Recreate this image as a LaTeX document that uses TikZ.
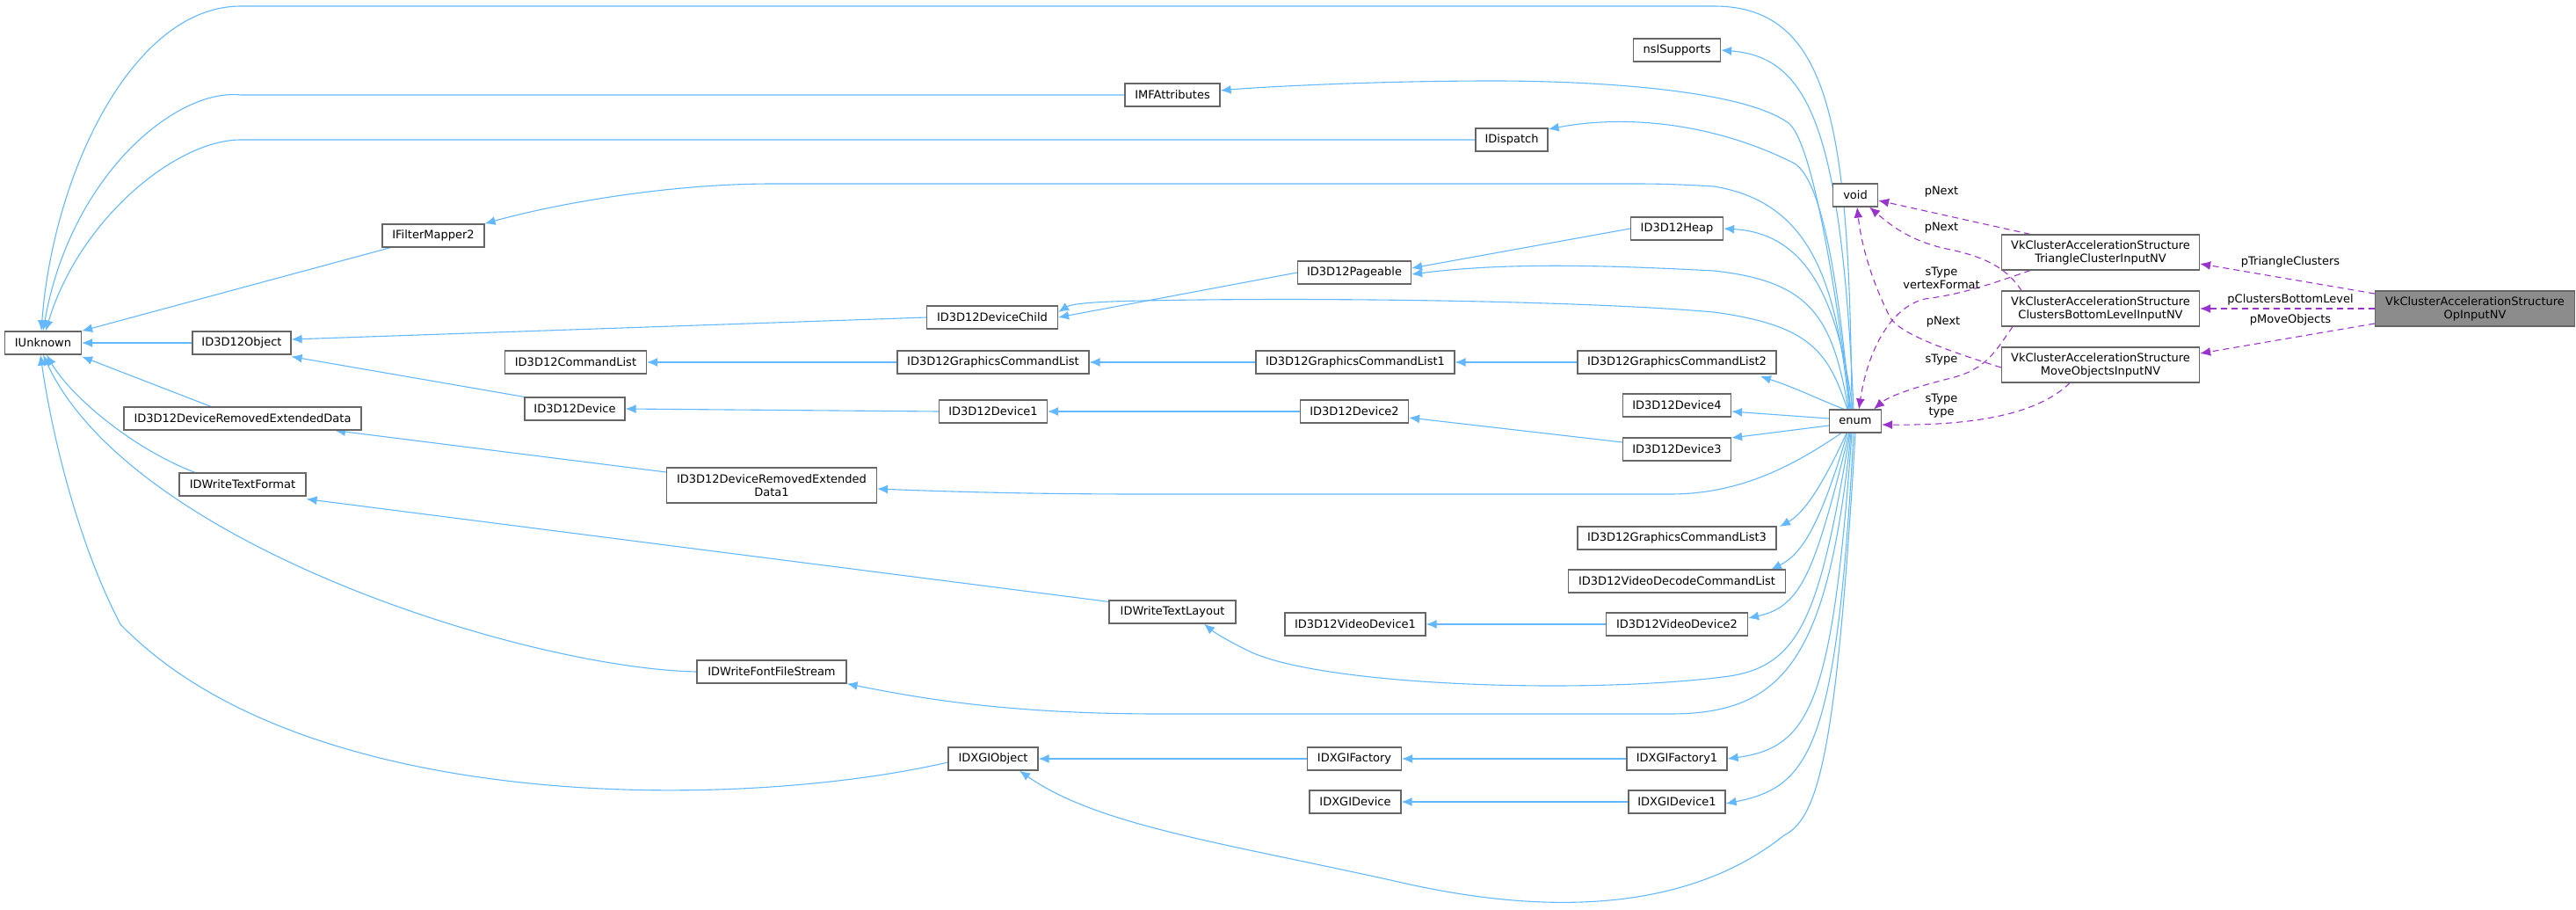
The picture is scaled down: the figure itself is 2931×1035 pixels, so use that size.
\documentclass[tikz,border=0pt]{standalone}
\usepackage{fontspec}
\setmainfont{DejaVu Sans}
\usetikzlibrary{arrows.meta}
\definecolor{eb}{HTML}{63B8FF}
\definecolor{ep}{HTML}{9A32CD}
\definecolor{bd}{HTML}{666666}
\pgfdeclarelayer{bg}
\pgfsetlayers{bg,main}
\begin{document}
\begin{tikzpicture}[x=1pt,y=-1pt,
  box/.style={draw=bd,line width=1.2pt,fill=white,inner sep=0pt,minimum height=26pt,font=\fontsize{13}{15}\selectfont,align=center},
  box2/.style={box,minimum height=40pt},
  b/.style={draw=eb,line width=1.1pt,-{Latex[length=12pt,width=10pt]}},
  p/.style={draw=ep,line width=1.1pt,dashed,dash pattern=on 7pt off 5pt,-{Latex[length=12pt,width=10pt]}},
  lb/.style={font=\fontsize{13}{15}\selectfont,align=center,inner sep=0pt}]
\useasboundingbox (0,0) rectangle (2931,1035);
% nodes
\node[box,minimum width=87] (IUnknown) at (49,390) {IUnknown};
\node[box,minimum width=112] (Obj) at (275,390) {ID3D12Object};
\node[box,minimum width=116] (IFM) at (493,268) {IFilterMapper2};
\node[box,minimum width=108] (IMF) at (1334,108) {IMFAttributes};
\node[box,minimum width=82] (IDisp) at (1720,159) {IDispatch};
\node[box,minimum width=99] (ns) at (1908,57) {nsISupports};
\node[box,minimum width=51] (void) at (2111,222) {void};
\node[box,minimum width=105] (Heap) at (1908,260) {ID3D12Heap};
\node[box,minimum width=129] (Pag) at (1541,310) {ID3D12Pageable};
\node[box,minimum width=149] (DC) at (1129,361) {ID3D12DeviceChild};
\node[box,minimum width=161] (CL) at (655,412) {ID3D12CommandList};
\node[box,minimum width=218] (GCL) at (1130,412) {ID3D12GraphicsCommandList};
\node[box,minimum width=226] (GCL1) at (1542,412) {ID3D12GraphicsCommandList1};
\node[box,minimum width=226] (GCL2) at (1908,412) {ID3D12GraphicsCommandList2};
\node[box,minimum width=114] (Dev) at (654,465) {ID3D12Device};
\node[box,minimum width=123] (Dev1) at (1130,468) {ID3D12Device1};
\node[box,minimum width=123] (Dev2) at (1541,468) {ID3D12Device2};
\node[box,minimum width=123] (Dev4) at (1908,461) {ID3D12Device4};
\node[box,minimum width=123] (Dev3) at (1908,511) {ID3D12Device3};
\node[box,minimum width=270] (DRED) at (276,476) {ID3D12DeviceRemovedExtendedData};
\node[box2,minimum width=239] (DRED1) at (878,552) {ID3D12DeviceRemovedExtended\\Data1};
\node[box,minimum width=144] (TF) at (276,551) {IDWriteTextFormat};
\node[box,minimum width=144] (TL) at (1334,696) {IDWriteTextLayout};
\node[box,minimum width=226] (GCL3) at (1908,612) {ID3D12GraphicsCommandList3};
\node[box,minimum width=247] (VDCL) at (1908,661) {ID3D12VideoDecodeCommandList};
\node[box,minimum width=160] (VD1) at (1542,710) {ID3D12VideoDevice1};
\node[box,minimum width=161] (VD2) at (1908,710) {ID3D12VideoDevice2};
\node[box,minimum width=170] (FFS) at (878,764) {IDWriteFontFileStream};
\node[box,minimum width=102] (XO) at (1130,863) {IDXGIObject};
\node[box,minimum width=107] (XF) at (1541,863) {IDXGIFactory};
\node[box,minimum width=114] (XF1) at (1908,863) {IDXGIFactory1};
\node[box,minimum width=104] (XD) at (1542,912) {IDXGIDevice};
\node[box,minimum width=110] (XD1) at (1908,912) {IDXGIDevice1};
\node[box,minimum width=59] (enum) at (2111,479) {enum};
\node[box2,minimum width=225] (Tri) at (2390,287) {VkClusterAccelerationStructure\\TriangleClusterInputNV};
\node[box2,minimum width=225] (Clu) at (2390,351) {VkClusterAccelerationStructure\\ClustersBottomLevelInputNV};
\node[box2,minimum width=225] (Mov) at (2390,415) {VkClusterAccelerationStructure\\MoveObjectsInputNV};
\node[box2,minimum width=227,fill=black!45] (Op) at (2816,351) {VkClusterAccelerationStructure\\OpInputNV};
\coordinate (tu) at (274,7);
\begin{pgfonlayer}{bg}
% edges to IUnknown
\draw[b] ([xshift=-4pt]enum.north) .. controls (2104,150) and (2085,7) .. (1950,7) -- (tu) .. controls (150,7) and (60,200) .. ([xshift=-2pt]IUnknown.north);
\draw[b] (IMF.west) -- (274,108) .. controls (200,100) and (80,200) .. (IUnknown.north);
\draw[b] (IDisp.west) -- (274,159) .. controls (200,159) and (90,250) .. ([xshift=3pt]IUnknown.north);
\draw[b] (IFM.south west) ++(10,0) -- (IUnknown.north east);
\draw[b] (Obj.west) -- (IUnknown.east);
\draw[b] ([xshift=-36pt]DRED.north) -- ([yshift=-2pt]IUnknown.south east);
\draw[b] ([xshift=-54pt]TF.north) .. controls (150,510) and (80,450) .. ([xshift=4pt]IUnknown.south);
\draw[b] (FFS.west) .. controls (600,760) and (150,620) .. (IUnknown.south);
\draw[b] ([yshift=-4pt]XO.west) .. controls (850,920) and (350,930) .. (137,710) .. controls (90,620) and (60,500) .. ([xshift=-3pt]IUnknown.south);
% D3D12 hierarchy
\draw[b] (DC.west) -- ([yshift=4pt]Obj.east);
\draw[b] (Dev.north west) -- ([yshift=-2pt]Obj.south east);
\draw[b] (Pag.west) -- (DC.east);
\draw[b] (Heap.west) -- ([yshift=5pt]Pag.east);
\draw[b] (GCL.west) -- (CL.east);
\draw[b] (GCL1.west) -- (GCL.east);
\draw[b] (GCL2.west) -- (GCL1.east);
\draw[b] (Dev1.west) -- (Dev.east);
\draw[b] (Dev2.west) -- (Dev1.east);
\draw[b] ([yshift=8pt]Dev3.west) -- ([yshift=-7pt]Dev2.east);
\draw[b] ([yshift=15pt]DRED1.west) -- ([xshift=105pt]DRED.south);
\draw[b] (TL.north west) ++(0,2) -- ([yshift=-3pt]TF.south east);
\draw[b] (VD2.west) -- (VD1.east);
\draw[b] (XF.west) -- (XO.east);
\draw[b] (XF1.west) -- (XF.east);
\draw[b] (XD1.west) -- (XD.east);
% enum edges
\draw[b] ([xshift=-2pt]enum.north) .. controls (2095,150) and (2060,65) .. (ns.east);
\draw[b] ([xshift=-5pt]enum.north) .. controls (2085,300) and (2060,160) .. (2035,140) .. controls (1980,100) and (1800,92) .. (1700,92) .. controls (1550,92) and (1420,100) .. ([yshift=5pt]IMF.east);
\draw[b] ([xshift=-6pt]enum.north) .. controls (2090,300) and (2070,200) .. (2040,185) .. controls (1950,140) and (1850,130) .. ([yshift=12pt]IDisp.east);
\draw[b] ([xshift=-7pt]enum.north) .. controls (2090,320) and (2060,230) .. (1950,212) .. controls (1900,209) and (1880,209) .. (1850,209) -- (880,209) .. controls (750,209) and (620,235) .. (IFM.north east);
\draw[b] ([xshift=-3pt]enum.north) .. controls (2090,330) and (2050,265) .. (Heap.east);
\draw[b] ([xshift=-8pt]enum.north) .. controls (2085,360) and (2060,320) .. (1950,308) .. controls (1800,300) and (1700,300) .. ([yshift=-2pt]Pag.east);
\draw[b] ([xshift=-9pt]enum.north) .. controls (2080,400) and (2060,370) .. (1950,355) .. controls (1800,342) and (1500,338) .. (1300,342) .. controls (1250,343) and (1220,345) .. ([yshift=6pt]DC.east);
\draw[b] ([xshift=-13pt]enum.north) .. controls (2060,450) and (2040,440) .. (2003,428);
\draw[b] ([yshift=3pt]enum.west) -- ([yshift=-7pt]Dev4.east);
\draw[b] ([yshift=-5pt]enum.west) -- ([yshift=13pt]Dev3.east);
\draw[b] ([xshift=-16pt]enum.south) .. controls (2040,530) and (1980,562) .. (1900,562) -- (1300,562) .. controls (1150,562) and (1050,558) .. ([yshift=-4pt]DRED1.east);
\draw[b] ([xshift=-10pt]enum.south) .. controls (2070,560) and (2050,585) .. (2025,599);
\draw[b] ([xshift=-9pt]enum.south) .. controls (2070,600) and (2050,630) .. (2015,648);
\draw[b] ([xshift=-7pt]enum.south) .. controls (2065,650) and (2050,690) .. ([yshift=7pt]VD2.east);
\draw[b] ([xshift=-6pt]enum.south) .. controls (2070,700) and (2050,760) .. (1960,770) .. controls (1800,790) and (1500,780) .. (1420,740) .. controls (1395,728) and (1380,718) .. ([xshift=36pt]TL.south);
\draw[b] ([xshift=-5pt]enum.south) .. controls (2080,750) and (2030,812) .. (1900,812) -- (1320,812) .. controls (1150,812) and (1050,795) .. (FFS.south east);
\draw[b] ([xshift=-4pt]enum.south) .. controls (2085,800) and (2060,850) .. (XF1.east);
\draw[b] ([xshift=-2pt]enum.south) .. controls (2090,850) and (2060,895) .. ([yshift=-2pt]XD1.east);
\draw[b] (enum.south) .. controls (2090,850) and (2070,930) .. (2030,950) .. controls (1930,1030) and (1780,1045) .. (1600,1005) .. controls (1400,960) and (1250,940) .. ([xshift=30pt]XO.south);
% purple edges
\draw[p] ([xshift=-80pt]Tri.north) -- ([yshift=-6pt]void.east);
\node[lb] (l1) at (2209,218) {pNext};
\draw[p] ([xshift=-90pt]Clu.north) .. controls (2280,300) and (2250,290) .. (2210,282) .. controls (2170,272) and (2150,255) .. ([xshift=16pt]void.south);
\node[lb] (l2) at (2209,259) {pNext};
\draw[p] ([yshift=-3pt]Mov.west) .. controls (2220,400) and (2160,380) .. (2150,360) .. controls (2130,320) and (2118,280) .. ([xshift=2pt]void.south);
\node[lb] (l3) at (2211,366) {pNext};
\draw[p] ([xshift=-80pt]Tri.south) .. controls (2260,325) and (2230,335) .. (2190,340) .. controls (2150,350) and (2125,400) .. ([xshift=4pt]enum.north);
\node[lb] (l4) at (2209,316) {sType\\vertexFormat};
\draw[p] ([xshift=-100pt]Clu.south) .. controls (2270,400) and (2260,420) .. (2220,430) .. controls (2180,440) and (2150,450) .. ([xshift=21pt]enum.north);
\node[lb] (l5) at (2209,409) {sType};
\draw[p] ([xshift=-35pt]Mov.south) .. controls (2320,470) and (2250,484) .. ([yshift=-4pt]enum.east);
\node[lb] (l6) at (2209,462) {sType\\type};
\draw[p] ([yshift=17pt]Op.west) -- ([yshift=-13pt]Tri.east);
\node[lb] (l7) at (2606,298) {pTriangleClusters};
\draw[p] (Op.west) -- (Clu.east);
\node[lb] (l8) at (2606,341) {pClustersBottomLevel};
\draw[p] ([yshift=-17pt]Op.west) -- ([yshift=13pt]Mov.east);
\node[lb] (l9) at (2606,364) {pMoveObjects};
\end{pgfonlayer}
\end{tikzpicture}
\end{document}
